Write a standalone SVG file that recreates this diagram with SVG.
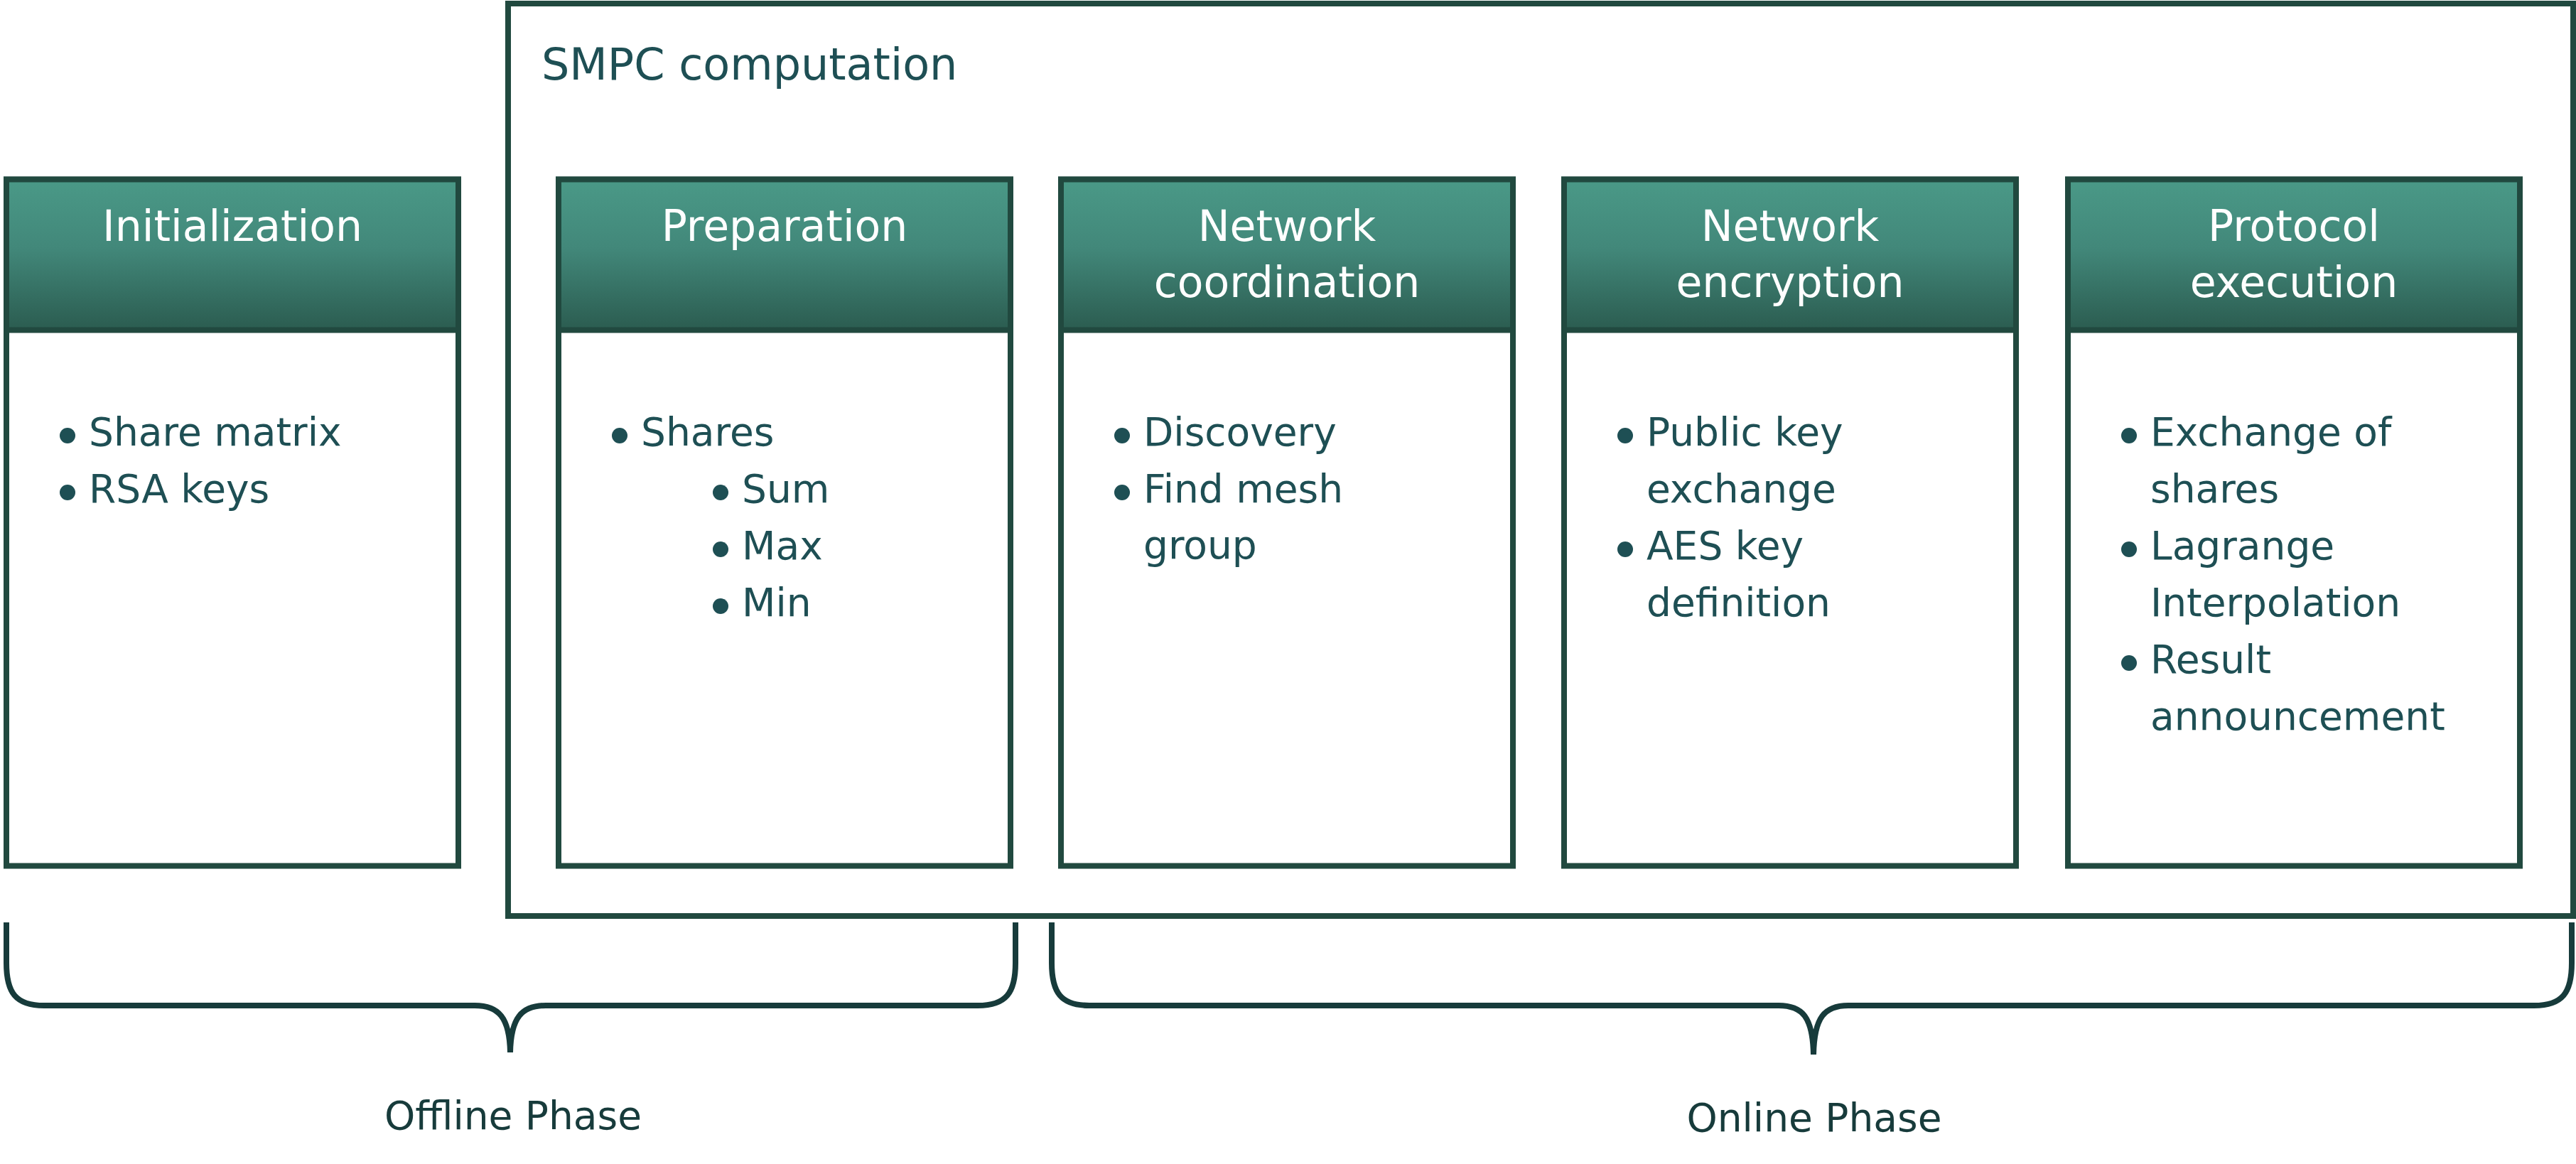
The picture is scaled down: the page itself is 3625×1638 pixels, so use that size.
<svg xmlns="http://www.w3.org/2000/svg" width="3625" height="1638" viewBox="0 0 3625 1638">
<defs>
<linearGradient id="hdr" x1="0" y1="0" x2="0" y2="1">
<stop offset="0" stop-color="#4A9987"/>
<stop offset="0.45" stop-color="#42887A"/>
<stop offset="1" stop-color="#2B5C50"/>
</linearGradient>
<style>
.frame{fill:#FFFFFF;stroke:#21493F;stroke-width:8}
.head{fill:url(#hdr);stroke:#21493F;stroke-width:8}
.htxt{font-family:"DejaVu Sans","Liberation Sans",sans-serif;font-size:60px;fill:#FFFFFF;text-anchor:middle}
.btxt{font-family:"DejaVu Sans","Liberation Sans",sans-serif;font-size:55px;fill:#1E4F54}
.dot{fill:#1E4F54}
.brace{fill:none;stroke:#173B3B;stroke-width:8}
.lbl{font-family:"DejaVu Sans","Liberation Sans",sans-serif;font-size:55px;fill:#173B3B;text-anchor:middle}
.ttl{font-family:"DejaVu Sans","Liberation Sans",sans-serif;font-size:62px;fill:#1E4F54}
</style>
</defs>
<rect width="3625" height="1638" fill="#FFFFFF"/>

<g id="smpc">
<rect class="frame" x="715" y="5" width="2906" height="1284"/>
<text class="ttl" x="762" y="112">SMPC computation</text>
</g>

<g id="initialization">
<rect class="frame" x="9" y="252.5" width="636" height="966"/>
<rect class="head" x="9" y="252.5" width="636" height="212"/>
<text class="htxt" x="327" y="339">Initialization</text>
<circle class="dot" cx="95" cy="613" r="11"/>
<text class="btxt" x="125" y="627">Share matrix</text>
<circle class="dot" cx="95" cy="693" r="11"/>
<text class="btxt" x="125" y="707">RSA keys</text>
</g>

<g id="preparation">
<rect class="frame" x="786" y="252.5" width="636" height="966"/>
<rect class="head" x="786" y="252.5" width="636" height="212"/>
<text class="htxt" x="1104" y="339">Preparation</text>
<circle class="dot" cx="872" cy="613" r="11"/>
<text class="btxt" x="902" y="627">Shares</text>
<circle class="dot" cx="1014" cy="693" r="11"/>
<text class="btxt" x="1044" y="707">Sum</text>
<circle class="dot" cx="1014" cy="773" r="11"/>
<text class="btxt" x="1044" y="787">Max</text>
<circle class="dot" cx="1014" cy="853" r="11"/>
<text class="btxt" x="1044" y="867">Min</text>
</g>

<g id="network-coordination">
<rect class="frame" x="1493" y="252.5" width="636" height="966"/>
<rect class="head" x="1493" y="252.5" width="636" height="212"/>
<text class="htxt" x="1811" y="339">Network</text>
<text class="htxt" x="1811" y="418">coordination</text>
<circle class="dot" cx="1579" cy="613" r="11"/>
<text class="btxt" x="1609" y="627">Discovery</text>
<circle class="dot" cx="1579" cy="693" r="11"/>
<text class="btxt" x="1609" y="707">Find mesh</text>
<text class="btxt" x="1609" y="786">group</text>
</g>

<g id="network-encryption">
<rect class="frame" x="2201" y="252.5" width="636" height="966"/>
<rect class="head" x="2201" y="252.5" width="636" height="212"/>
<text class="htxt" x="2519" y="339">Network</text>
<text class="htxt" x="2519" y="418">encryption</text>
<circle class="dot" cx="2287" cy="613" r="11"/>
<text class="btxt" x="2317" y="627">Public key</text>
<text class="btxt" x="2317" y="707">exchange</text>
<circle class="dot" cx="2287" cy="773" r="11"/>
<text class="btxt" x="2317" y="787">AES key</text>
<text class="btxt" x="2317" y="867">definition</text>
</g>

<g id="protocol-execution">
<rect class="frame" x="2910" y="252.5" width="636" height="966"/>
<rect class="head" x="2910" y="252.5" width="636" height="212"/>
<text class="htxt" x="3228" y="339">Protocol</text>
<text class="htxt" x="3228" y="418">execution</text>
<circle class="dot" cx="2996" cy="613" r="11"/>
<text class="btxt" x="3026" y="627">Exchange of</text>
<text class="btxt" x="3026" y="707">shares</text>
<circle class="dot" cx="2996" cy="773" r="11"/>
<text class="btxt" x="3026" y="787">Lagrange</text>
<text class="btxt" x="3026" y="867">Interpolation</text>
<circle class="dot" cx="2996" cy="933" r="11"/>
<text class="btxt" x="3026" y="947">Result</text>
<text class="btxt" x="3026" y="1027">announcement</text>
</g>

<g id="connectors">
<path class="brace" d="M 9 1298 V 1355 C 9 1397 22 1415 62 1415 H 668 C 702 1415 717 1432 718 1481"/>
<path class="brace" d="M 1429 1298 V 1355 C 1429 1397 1416 1415 1376 1415 H 768 C 734 1415 719 1432 718 1481"/>
<path class="brace" d="M 1480 1298 V 1355 C 1480 1397 1493 1415 1533 1415 H 2503 C 2537 1415 2551 1432 2552 1484"/>
<path class="brace" d="M 3619 1298 V 1355 C 3619 1397 3606 1415 3566 1415 H 2601 C 2567 1415 2553 1432 2552 1484"/>
</g>

<g id="labels">
<text class="lbl" x="722" y="1589">Offline Phase</text>
<text class="lbl" x="2553" y="1592">Online Phase</text>
</g>
</svg>
